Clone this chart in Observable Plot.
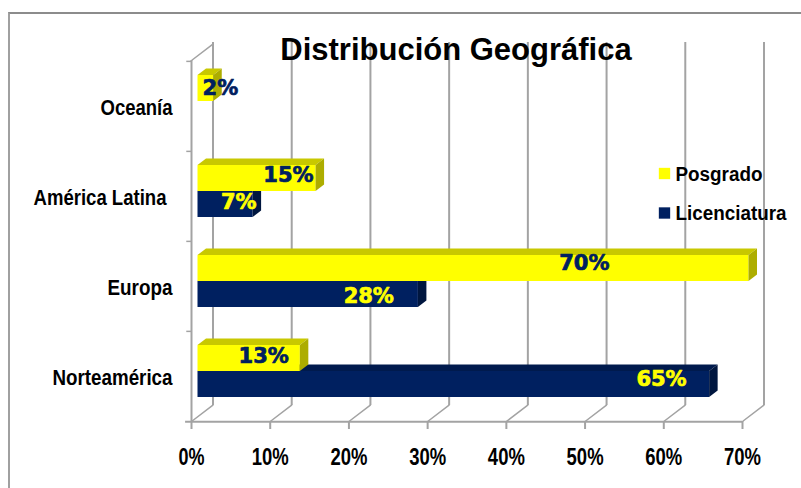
<!DOCTYPE html>
<html>
<head>
<meta charset="utf-8">
<script src="https://cdn.jsdelivr.net/npm/d3@7"></script>
<script src="https://cdn.jsdelivr.net/npm/@observablehq/plot@0.6"></script>
<style>
html,body{margin:0;padding:0;background:#fff}
#chart{position:relative;width:801px;height:488px;overflow:hidden}
#chart svg{position:absolute;left:0;top:0;background:transparent}
#border{position:absolute;left:8px;top:12px;right:-4px;bottom:-4px;border-top:2px solid #8c8c8c;border-left:2px solid #a0a0a0}
</style>
</head>
<body>
<div id="chart"><div id="border"></div></div>
<script>
const categories = ["Oceanía", "América Latina", "Europa", "Norteamérica"];
const posgrado = [2, 15, 70, 13];
const licenciatura = [null, 7, 28, 65];
const seriesNames = ["Posgrado", "Licenciatura"];
const xTicks = [0, 10, 20, 30, 40, 50, 60, 70];
const chartTitle = "Distribución Geográfica";

const yellow = "#ffff00", navy = "#002060", grid = "#a3a3a3";
const sans = "'Liberation Sans',sans-serif";
const rows = (vals) => categories.map((c, i) => ({cat: c, v: vals[i]})).filter(d => d.v != null);

// placement of the data labels relative to each bar end / band centre
const labelOffsets = {
  "Posgrado": {"Oceanía": [31, -18], "América Latina": [4, -21], "Europa": [-133, -23], "Norteamérica": [-5, -20]},
  "Licenciatura": {"América Latina": [10, 6], "Europa": [-18, 10], "Norteamérica": [-16.5, 3]}
};

// condensed look of the reference lettering: target text widths
const condensedWidths = {
  "Oceanía": 72, "América Latina": 133, "Europa": 65, "Norteamérica": 120,
  "Posgrado": 87, "Licenciatura": 111,
  "0%": 26, "10%": 37, "20%": 37, "30%": 37, "40%": 37, "50%": 37, "60%": 37, "70%": 37
};

function box3d(topFill, sideFill) {
  return function (index, scales, values, dimensions, context, next) {
    const g = next(index, scales, values, dimensions, context);
    const dx = 8.5, dy = 6.5;
    d3.select(g).selectAll("rect").each(function () {
      const r = d3.select(this);
      const x = +r.attr("x"), y = +r.attr("y"), w = +r.attr("width"), h = +r.attr("height");
      d3.select(g).append("polygon")
        .attr("fill", topFill)
        .attr("points", [[x, y], [x + dx, y - dy], [x + w + dx, y - dy], [x + w, y]].join(" "));
      d3.select(g).append("polygon")
        .attr("fill", sideFill)
        .attr("points", [[x + w, y], [x + w + dx, y - dy], [x + w + dx, y + h - dy], [x + w, y + h]].join(" "));
    });
    return g;
  };
}

const segment = {draw(ctx, l) { ctx.moveTo(0, 0); ctx.lineTo(0, -l); }};

function condense(index, scales, values, dimensions, context, next) {
  const g = next(index, scales, values, dimensions, context);
  d3.select(g).selectAll("text").each(function () {
    const w = condensedWidths[this.textContent.trim()];
    if (w) d3.select(this).attr("textLength", w).attr("lengthAdjust", "spacingAndGlyphs");
  });
  return g;
}

function dataLabels(series, vals, color) {
  return rows(vals).map(d => {
    const [dx, dy] = labelOffsets[series][d.cat];
    return Plot.text([d], {
      x: "v", y: "cat", text: t => t.v + "%", textAnchor: "end", lineAnchor: "middle",
      dx, dy, fill: color, stroke: color, strokeWidth: 0.7,
      fontFamily: "'DejaVu Sans',sans-serif", fontWeight: "bold", fontSize: 21
    });
  });
}

const lettering = {fill: "#000", fontFamily: sans, fontWeight: "bold", render: condense};

const plot = Plot.plot({
  width: 801, height: 488,
  marginLeft: 191, marginRight: 59, marginTop: 60, marginBottom: 67,
  style: {background: "transparent"},
  x: {domain: [0, 70], label: null},
  y: {domain: categories, paddingInner: 0.712, paddingOuter: 0.356, label: null},
  marks: [
    // back wall gridlines
    Plot.ruleX(xTicks, {dx: 21.5, dy: -16, insetTop: -2, stroke: grid, strokeWidth: 2}),
    // floor diagonals
    Plot.vector(xTicks, {x: d => d, frameAnchor: "bottom", rotate: 52.5, length: 27, anchor: "start", shape: segment, stroke: grid, strokeWidth: 1.5}),
    // side wall
    Plot.vector([0], {x: d => d, frameAnchor: "top", rotate: 52.5, length: 27, anchor: "start", shape: segment, stroke: grid, strokeWidth: 1.5}),
    Plot.ruleX([0], {stroke: grid, strokeWidth: 2}),
    Plot.ruleY(categories, {y: d => d, dy: -45.125, x1: -0.6, x2: 0, stroke: grid, strokeWidth: 1.5}),
    Plot.ruleY(categories.slice(-1), {y: d => d, dy: 45.125, x1: -0.75, x2: 70, stroke: grid, strokeWidth: 2}),
    // axes
    Plot.axisX(xTicks, {
      anchor: "bottom", label: null, tickSize: 8, tickPadding: 19, stroke: grid, strokeWidth: 2,
      tickFormat: d => d + "%", fontSize: 23, ...lettering
    }),
    Plot.axisY(categories.filter(c => c !== "América Latina"), {
      anchor: "left", label: null, tickSize: 0, tickPadding: 19, dy: 1, fontSize: 22, ...lettering
    }),
    Plot.axisY(["América Latina"], {
      anchor: "left", label: null, tickSize: 0, tickPadding: 25, dy: 1, fontSize: 22, ...lettering
    }),
    // title
    Plot.text([chartTitle], {
      frameAnchor: "top", dx: -11, dy: -10, lineAnchor: "middle", fill: "#000",
      fontFamily: sans, fontWeight: "bold", fontSize: 31
    }),
    // bars
    Plot.barX(rows(licenciatura), {x: "v", y: "cat", dx: 6.5, dy: 8, fill: navy, render: box3d("#001a4d", "#00163f")}),
    Plot.barX(rows(posgrado), {x: "v", y: "cat", dx: 6.5, dy: -18, fill: yellow, render: box3d("#c8c800", "#adad00")}),
    ...dataLabels("Licenciatura", licenciatura, yellow),
    ...dataLabels("Posgrado", posgrado, navy),
    // legend
    Plot.dot(seriesNames.slice(0, 1), {frameAnchor: "top-left", dx: 473, dy: 113, r: 6.4, symbol: "square", fill: yellow}),
    Plot.dot(seriesNames.slice(1), {frameAnchor: "top-left", dx: 473, dy: 152.5, r: 6.4, symbol: "square", fill: navy}),
    Plot.text(seriesNames.slice(0, 1), {text: d => d, frameAnchor: "top-left", dx: 484, dy: 114, textAnchor: "start", lineAnchor: "middle", fontSize: 19.5, ...lettering}),
    Plot.text(seriesNames.slice(1), {text: d => d, frameAnchor: "top-left", dx: 484, dy: 153, textAnchor: "start", lineAnchor: "middle", fontSize: 19.5, ...lettering})
  ]
});
document.getElementById("chart").appendChild(plot);
</script>
</body>
</html>
